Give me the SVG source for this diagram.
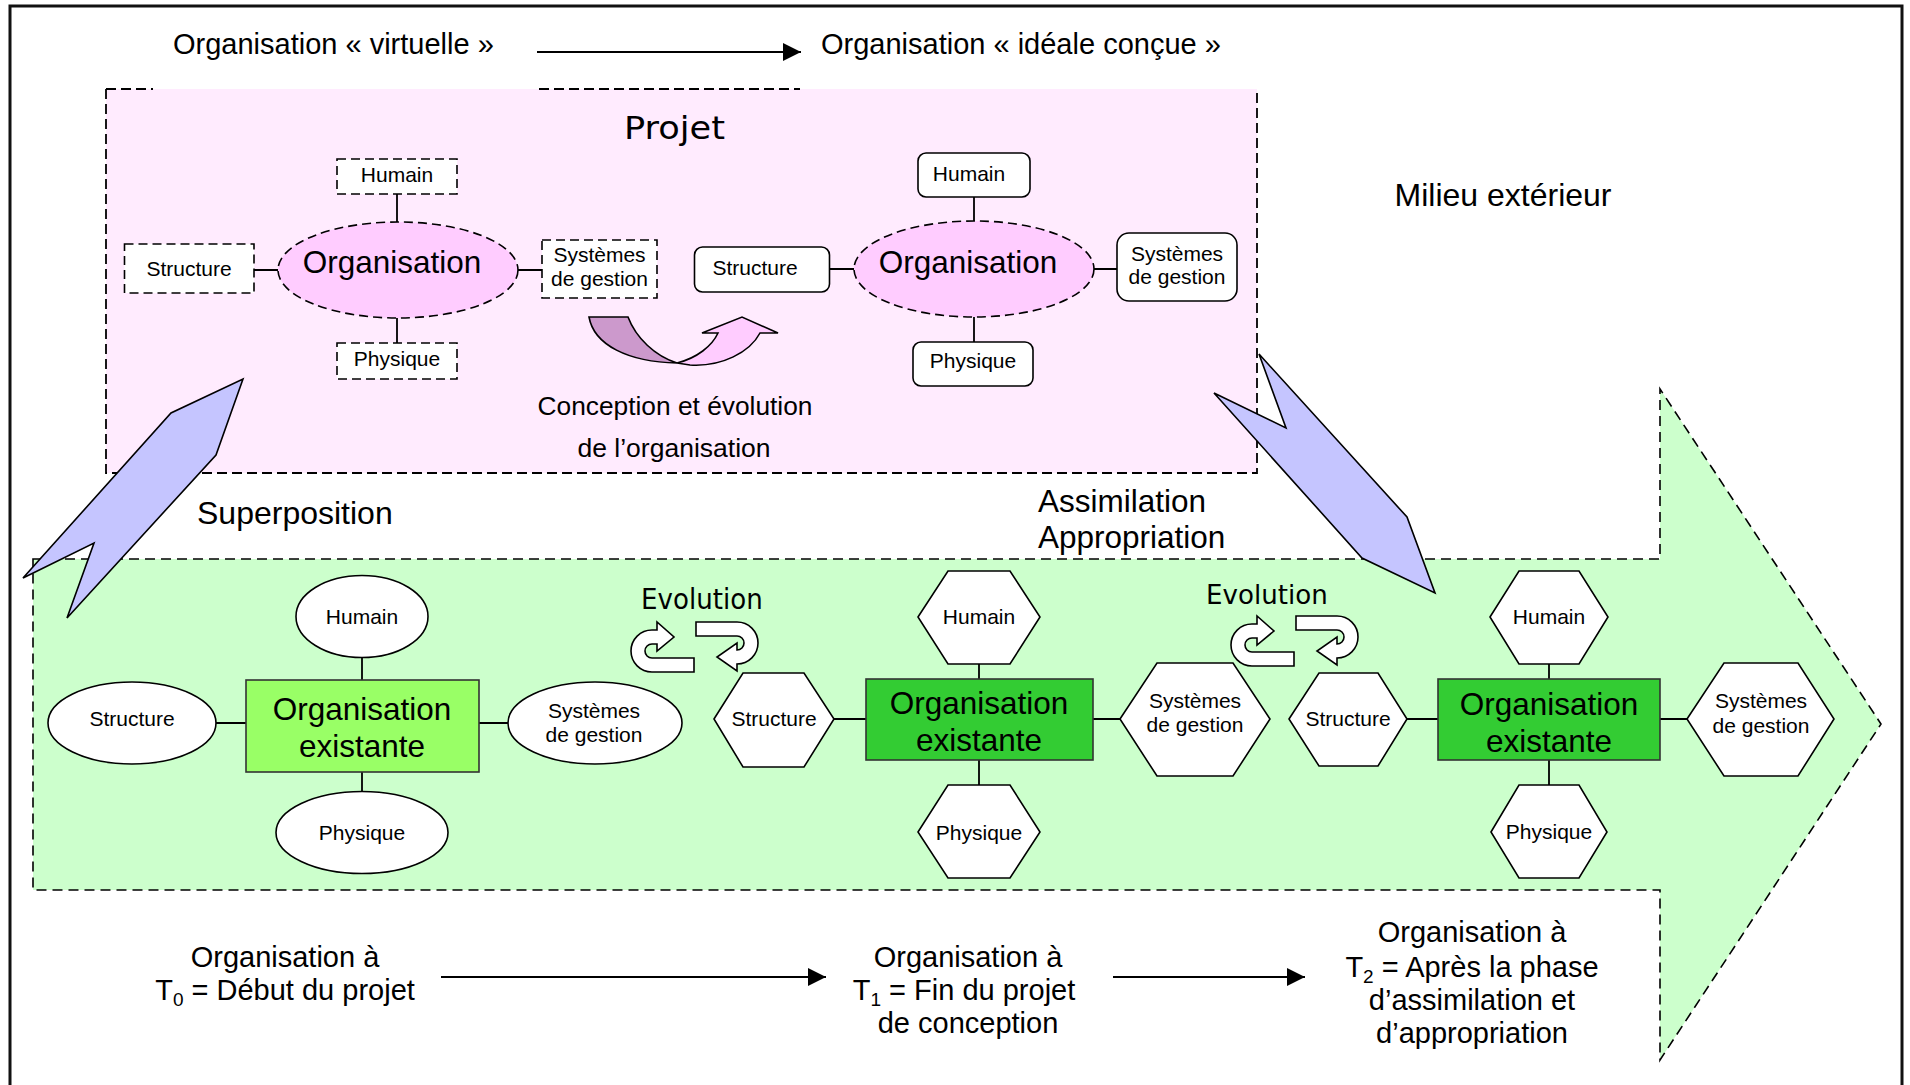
<svg xmlns="http://www.w3.org/2000/svg" width="1910" height="1085" viewBox="0 0 1910 1085">
<defs>
<style>
.t{font-family:"Liberation Sans",Arial,sans-serif;fill:#000}
.dv{font-family:"DejaVu Sans",Verdana,sans-serif;fill:#000}
.n{font-size:21px;text-anchor:middle}
.big{font-size:31.5px;text-anchor:middle}
.lab{font-size:29px}
.dbox{fill:#fff;stroke:#000;stroke-width:1.6;stroke-dasharray:9 5}
.sbox{fill:#fff;stroke:#000;stroke-width:1.6}
.pell{fill:#FFCCFF;stroke:#000;stroke-width:1.6;stroke-dasharray:9 5}
.ln{stroke:#000;stroke-width:1.8;fill:none}
.dl{stroke:#000;stroke-width:1.8;stroke-dasharray:10 5;fill:none}
.blue{fill:#C5C5FF;stroke:#000;stroke-width:1.6;stroke-linejoin:miter}
.curl{fill:#fff;stroke:#000;stroke-width:1.6}
.arr{stroke:#000;stroke-width:2;fill:none}
</style>
<marker id="ah" viewBox="0 0 18 18" refX="18" refY="9" markerWidth="18" markerHeight="18" markerUnits="userSpaceOnUse" orient="auto"><path d="M0,0 L18,9 L0,18 Z" fill="#000"/></marker>
<clipPath id="clipDe"><rect x="500" y="380" width="400" height="82"/></clipPath>
</defs>
<rect width="1910" height="1085" fill="#fff"/>
<rect id="frame" x="10" y="6" width="1892" height="1100" fill="none" stroke="#111" stroke-width="3"/>

<!-- top labels -->
<g id="virtuelle"><text class="t lab" x="173" y="54">Organisation « virtuelle »</text></g>
<g id="ideale"><text class="t lab" x="821" y="54">Organisation « idéale conçue »</text></g>

<!-- Projet area -->
<g id="projet">
<rect x="106" y="89" width="1151" height="384" fill="#FFEBFE"/>
<path class="dl" d="M106,89 V473 H1257 V89 M106,89 H153 M539,89 H800"/>
<text class="dv" x="624" y="139" font-size="32" textLength="101" lengthAdjust="spacingAndGlyphs">Projet</text>
</g>

<!-- Green existing organisation arrow -->
<g id="existant">
<polygon points="33,559 1660,559 1660,389 1881,724 1660,1060 1660,890 33,890" fill="#CCFFCC" stroke="#000" stroke-width="1.6" stroke-dasharray="10 6"/>
</g>

<!-- connectors -->
<g id="connectors">
<line class="arr" x1="537" y1="52" x2="801" y2="52" marker-end="url(#ah)"/>
<line class="arr" x1="441" y1="977" x2="826" y2="977" marker-end="url(#ah)"/>
<line class="arr" x1="1113" y1="977" x2="1305" y2="977" marker-end="url(#ah)"/>
<path class="ln" d="M397,194 V222 M254,270 H278 M518,270 H542 M397,318 V343"/>
<path class="ln" d="M974,197 V221 M829,269 H854 M1094,269 H1117 M974,317 V342"/>
<path class="ln" d="M362,657 V680 M216,723 H246 M479,723 H508 M362,772 V792"/>
<path class="ln" d="M979,664 V679 M834,719 H866 M1093,719 H1120 M979,760 V785"/>
<path class="ln" d="M1549,664 V679 M1407,719 H1438 M1660,719 H1687 M1549,760 V785"/>
</g>

<!-- virtual organisation (dashed) -->
<g id="v-humain"><rect class="dbox" x="337" y="159" width="120" height="35"/><text class="t n" x="397" y="182">Humain</text></g>
<g id="v-structure"><rect class="dbox" x="124.5" y="244" width="129.5" height="49"/><text class="t n" x="189" y="276">Structure</text></g>
<g id="v-organisation"><ellipse class="pell" cx="398" cy="270" rx="120" ry="48"/><text class="t big" x="392" y="273">Organisation</text></g>
<g id="v-systemes"><rect class="dbox" x="542" y="240" width="115" height="58"/><text class="t n" x="599.5" y="262">Systèmes</text><text class="t n" x="599.5" y="286">de gestion</text></g>
<g id="v-physique"><rect class="dbox" x="337" y="343" width="120" height="36"/><text class="t n" x="397" y="366">Physique</text></g>

<!-- ideal organisation (solid rounded) -->
<g id="i-humain"><rect class="sbox" x="918" y="153" width="112" height="44" rx="8"/><text class="t n" x="969" y="181">Humain</text></g>
<g id="i-structure"><rect class="sbox" x="694.5" y="247" width="135" height="45" rx="8"/><text class="t n" x="755" y="275">Structure</text></g>
<g id="i-organisation"><ellipse class="pell" cx="974" cy="269" rx="120" ry="48"/><text class="t big" x="968" y="273">Organisation</text></g>
<g id="i-systemes"><rect class="sbox" x="1117" y="233" width="120" height="68" rx="12"/><text class="t n" x="1177" y="261">Systèmes</text><text class="t n" x="1177" y="284">de gestion</text></g>
<g id="i-physique"><rect class="sbox" x="913" y="342" width="120" height="44" rx="8"/><text class="t n" x="973" y="368">Physique</text></g>

<!-- conception arrow -->
<g id="conception">
<path d="M589,317 L628,317 C636,338 655,356 677,363 C628,362 594,345 589,317 Z" fill="#CC99CC" stroke="#000" stroke-width="1.6"/>
<path d="M677,363 C697,358 712,346 718,333 L702,333 L742,317 L778,333 L760,333 C750,352 722,367 690,365 Z" fill="#FFCCFF" stroke="#000" stroke-width="1.6" stroke-linejoin="miter"/>
<text class="t" x="675" y="415" font-size="26.3" text-anchor="middle">Conception et évolution</text>
<text class="t" x="674" y="457" font-size="26.5" text-anchor="middle" clip-path="url(#clipDe)">de l’organisation</text>
</g>

<g id="milieu"><text class="t" x="1503" y="206" font-size="32" text-anchor="middle" fill="#222">Milieu extérieur</text></g>
<g id="superposition-label"><text class="t" x="197" y="524" font-size="32">Superposition</text></g>
<g id="assimilation-label"><text class="t" x="1038" y="512" font-size="31.5">Assimilation</text><text class="t" x="1038" y="548" font-size="31.5">Appropriation</text></g>

<!-- T0 cluster (ellipses) -->
<g id="t0-humain"><ellipse class="sbox" cx="362" cy="616.5" rx="66" ry="41"/><text class="t n" x="362" y="624">Humain</text></g>
<g id="t0-structure"><ellipse class="sbox" cx="132" cy="723" rx="84" ry="41"/><text class="t n" x="132" y="726">Structure</text></g>
<g id="t0-organisation"><rect x="246" y="680" width="233" height="92" fill="#99FF66" stroke="#333" stroke-width="1.6"/><text class="t big" x="362" y="720">Organisation</text><text class="t big" x="362" y="757">existante</text></g>
<g id="t0-systemes"><ellipse class="sbox" cx="595" cy="723" rx="87" ry="41"/><text class="t n" x="594" y="718">Systèmes</text><text class="t n" x="594" y="742">de gestion</text></g>
<g id="t0-physique"><ellipse class="sbox" cx="362" cy="832.5" rx="86" ry="41"/><text class="t n" x="362" y="840">Physique</text></g>

<!-- T1 cluster (hexagons) -->
<g id="t1-humain"><polygon class="sbox" points="918,617 948,571 1010,571 1040,617 1010,664 948,664"/><text class="t n" x="979" y="624">Humain</text></g>
<g id="t1-structure"><polygon class="sbox" points="714,719 743,673 804,673 834,719 804,767 743,767"/><text class="t n" x="774" y="726">Structure</text></g>
<g id="t1-organisation"><rect x="866" y="679" width="227" height="81" fill="#33CC33" stroke="#333" stroke-width="1.6"/><text class="t big" x="979" y="714">Organisation</text><text class="t big" x="979" y="751">existante</text></g>
<g id="t1-systemes"><polygon class="sbox" points="1120,719 1157,663 1233,663 1270,719 1233,776 1157,776"/><text class="t n" x="1195" y="708">Systèmes</text><text class="t n" x="1195" y="732">de gestion</text></g>
<g id="t1-physique"><polygon class="sbox" points="918,832 948,785 1010,785 1040,832 1010,878 948,878"/><text class="t n" x="979" y="840">Physique</text></g>

<!-- T2 cluster (hexagons) -->
<g id="t2-humain"><polygon class="sbox" points="1490,617 1519,571 1579,571 1608,617 1579,664 1519,664"/><text class="t n" x="1549" y="624">Humain</text></g>
<g id="t2-structure"><polygon class="sbox" points="1289,719 1319,673 1378,673 1407,719 1378,766 1319,766"/><text class="t n" x="1348" y="726">Structure</text></g>
<g id="t2-organisation"><rect x="1438" y="679" width="222" height="81" fill="#33CC33" stroke="#333" stroke-width="1.6"/><text class="t big" x="1549" y="715">Organisation</text><text class="t big" x="1549" y="752">existante</text></g>
<g id="t2-systemes"><polygon class="sbox" points="1687,719 1724,663 1798,663 1834,719 1798,776 1724,776"/><text class="t n" x="1761" y="708">Systèmes</text><text class="t n" x="1761" y="733">de gestion</text></g>
<g id="t2-physique"><polygon class="sbox" points="1491,832 1519,785 1579,785 1607,832 1579,878 1519,878"/><text class="t n" x="1549" y="839">Physique</text></g>

<!-- evolution curls -->
<g id="evolution1">
<text class="dv" x="641" y="609" font-size="28" textLength="121.7" lengthAdjust="spacingAndGlyphs">Evolution</text>
<path class="curl" d="M694,658 L694,672 L652,672 A21,21 0 0 1 652,630 L657,630 L657,622 L674,637 L657,651 L657,644 L652,644 A7,7 0 0 0 652,658 Z"/>
<path class="curl" d="M696,622 L737,622 A21,21 0 0 1 737,664 L737,671 L717,657 L737,643 L737,650 A7,7 0 0 0 737,636 L696,636 Z"/>
</g>
<g id="evolution2">
<text class="dv" x="1206" y="604" font-size="27" textLength="121.7" lengthAdjust="spacingAndGlyphs">Evolution</text>
<g transform="translate(600,-6)">
<path class="curl" d="M694,658 L694,672 L652,672 A21,21 0 0 1 652,630 L657,630 L657,622 L674,637 L657,651 L657,644 L652,644 A7,7 0 0 0 652,658 Z"/>
<path class="curl" d="M696,622 L737,622 A21,21 0 0 1 737,664 L737,671 L717,657 L737,643 L737,650 A7,7 0 0 0 737,636 L696,636 Z"/>
</g>
</g>

<!-- blue transition arrows -->
<g id="superposition"><polygon class="blue" points="243,379 216,455 67,618 94,543 23,578 171,413"/></g>
<g id="assimilation"><polygon class="blue" points="1259,354 1407,517 1435,593 1362,558 1214,393 1286,428"/></g>

<!-- bottom time labels -->
<g id="t0-label">
<text class="t lab" x="285" y="967" text-anchor="middle">Organisation à</text>
<text class="t lab" x="285" y="1000" text-anchor="middle">T<tspan font-size="19" dy="6">0</tspan><tspan dy="-6"> = Début du projet</tspan></text>
</g>
<g id="t1-label">
<text class="t lab" x="968" y="967" text-anchor="middle">Organisation à</text>
<text class="t lab" x="964" y="1000" text-anchor="middle">T<tspan font-size="19" dy="6">1</tspan><tspan dy="-6"> = Fin du projet</tspan></text>
<text class="t lab" x="968" y="1033" text-anchor="middle">de conception</text>
</g>
<g id="t2-label">
<text class="t lab" x="1472" y="942" text-anchor="middle">Organisation à</text>
<text class="t lab" x="1472" y="977" text-anchor="middle">T<tspan font-size="19" dy="6">2</tspan><tspan dy="-6"> = Après la phase</tspan></text>
<text class="t lab" x="1472" y="1010" text-anchor="middle">d’assimilation et</text>
<text class="t lab" x="1472" y="1043" text-anchor="middle">d’appropriation</text>
</g>
</svg>
